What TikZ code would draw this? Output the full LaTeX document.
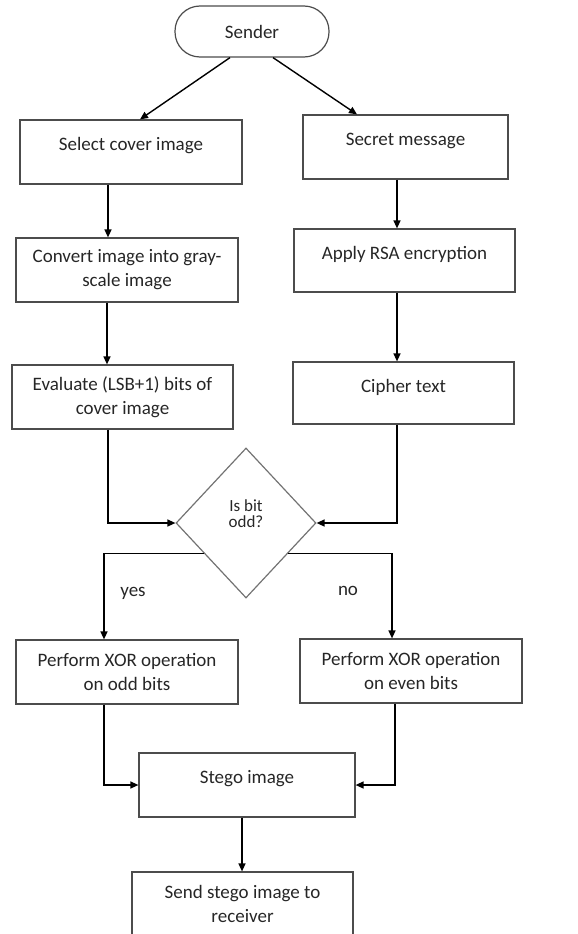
\documentclass[tikz,border=0pt]{standalone}
\usepackage{fontspec}
\setmainfont{Carlito}
\usetikzlibrary{arrows.meta,shapes.geometric,calc}
\begin{document}
\begin{tikzpicture}[x=1pt,y=-1pt,
  font=\fontsize{19}{24}\selectfont,
  every node/.style={text=black!85},
  procbox/.style={draw=black!70,line width=1.2pt,rectangle,minimum width=#1,minimum height=64,inner sep=0pt,align=center},
  procbox/.default=222,
  uptext/.style={label={[yshift=6pt,text=black!85]center:#1}},
  termbox/.style={draw=black!70,line width=1.2pt,rounded corners=25pt,minimum width=154,minimum height=51,inner sep=0pt},
  decision/.style={draw=black!55,line width=1.2pt,diamond,minimum width=140,minimum height=150,inner sep=0pt,align=center},
  arr/.style={draw=black,line width=1.4pt,-{Triangle[length=8pt,width=7pt]}}
]
\useasboundingbox (0,0) rectangle (578,934);

% process boxes and decision
\node[termbox] (sender) at (252,31.5) {Sender};
\node[procbox, uptext=Select cover image] (select) at (131,152) {};
\node[procbox=205, uptext=Secret message] (secret) at (405.5,147) {};
\node[procbox] (convert) at (127,270) {Convert image into gray-\\scale image};
\node[procbox=221, minimum height=63, uptext=Apply RSA encryption] (apply) at (404.5,260.5) {};
\node[procbox=221] (evaluate) at (122.5,397) {Evaluate (LSB+1) bits of\\cover image};
\node[procbox=221, minimum height=62, uptext=Cipher text] (cipher) at (403.5,393) {};
\node[decision] (dia) at (246,523) {};
\node[align=center, font=\fontsize{17}{16}\selectfont] (diatext) at (246,514) {Is bit\\odd?};
\node[procbox] (odd) at (127,672) {Perform XOR operation\\on odd bits};
\node[procbox] (even) at (411,671) {Perform XOR operation\\on even bits};
\node[procbox=216, uptext=Stego image] (stego) at (247,785) {};
\node[procbox=221] (send) at (242.5,904) {Send stego image to\\receiver};
\node (yes) at (133,593) {yes};
\node (no) at (348,591) {no};

\coordinate (yesout) at ($(dia.west)!0.4!(dia.south)$);
\coordinate (noout) at ($(dia.east)!0.4!(dia.south)$);

% connectors
\draw[arr] ([xshift=-22pt]sender.south) -- ([xshift=9pt]select.north);
\draw[arr] ([xshift=21pt]sender.south) -- ([xshift=-48.5pt]secret.north);
\draw[arr] ([xshift=-23pt]select.south) -- ([xshift=-19pt]convert.north);
\draw[arr] ([xshift=-20pt]convert.south) -- ([xshift=-15.5pt]evaluate.north);
\draw[arr] ([xshift=-8.5pt]secret.south) -- ([xshift=-7.5pt]apply.north);
\draw[arr] ([xshift=-7.5pt]apply.south) -- ([xshift=-6.5pt]cipher.north);
\draw[arr] ([xshift=-14.5pt]evaluate.south) |- (dia.west);
\draw[arr] ([xshift=-6.5pt]cipher.south) |- (dia.east);
\draw[arr] (yesout) -| ([xshift=-23pt]odd.north);
\draw[arr] (noout) -| ([xshift=-19pt]even.north);
\draw[arr] ([xshift=-23pt]odd.south) |- (stego.west);
\draw[arr] ([xshift=-16pt]even.south) |- (stego.east);
\draw[arr] ([xshift=-5pt]stego.south) -- ([xshift=-0.5pt]send.north);
\end{tikzpicture}
\end{document}
